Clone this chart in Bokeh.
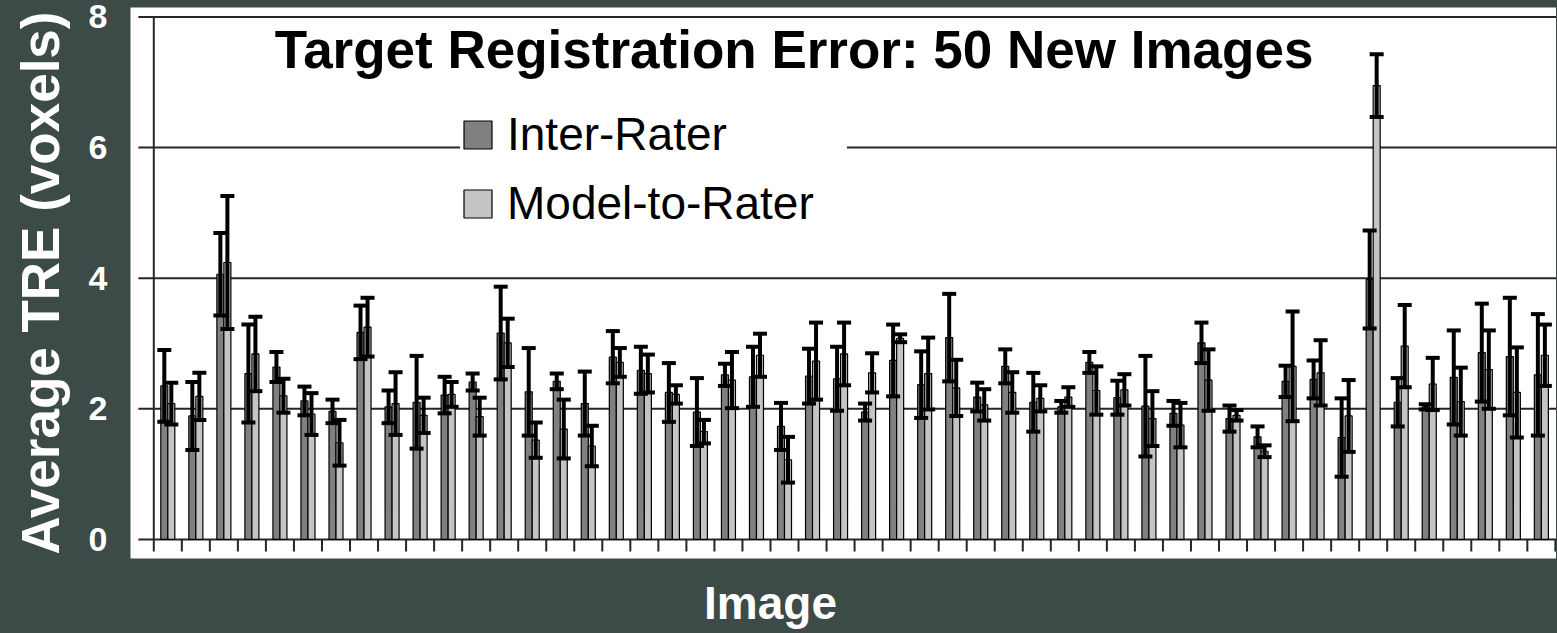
import numpy as np
from bokeh.plotting import figure
from bokeh.models import (Range1d, FixedTicker, ColumnDataSource, Whisker, TeeHead,
                          Legend, LegendItem, Label)
from bokeh.embed import file_html
from bokeh.resources import INLINE

# ---------------- data ----------------
images = list(range(1, 51))
inter_mean = [2.35, 1.89, 4.06, 2.54, 2.64, 2.12, 1.96, 3.17, 2.03, 2.10,
              2.21, 2.41, 3.16, 2.26, 2.42, 2.08, 2.79, 2.59, 2.25, 1.95,
              2.52, 2.49, 1.73, 2.50, 2.46, 1.95, 2.74, 2.37, 3.09, 2.18,
              2.65, 2.10, 2.03, 2.71, 2.17, 2.04, 1.93, 3.01, 1.85, 1.57,
              2.42, 2.45, 1.56, 3.98, 2.10, 2.03, 2.48, 2.86, 2.80, 2.52]
inter_sd = [0.55, 0.52, 0.63, 0.75, 0.23, 0.22, 0.18, 0.41, 0.25, 0.71,
            0.28, 0.13, 0.71, 0.67, 0.12, 0.49, 0.40, 0.36, 0.45, 0.52,
            0.17, 0.46, 0.36, 0.42, 0.49, 0.13, 0.55, 0.51, 0.67, 0.22,
            0.26, 0.45, 0.09, 0.16, 0.26, 0.77, 0.19, 0.31, 0.20, 0.16,
            0.24, 0.29, 0.60, 0.75, 0.37, 0.04, 0.72, 0.75, 0.90, 0.93]
model_mean = [2.08, 2.19, 4.24, 2.84, 2.20, 1.92, 1.48, 3.25, 2.08, 1.90,
              2.22, 1.88, 3.01, 1.52, 1.69, 1.43, 2.71, 2.54, 2.22, 1.65,
              2.44, 2.82, 1.22, 2.73, 2.84, 2.55, 3.08, 2.54, 2.32, 2.06,
              2.25, 2.16, 2.18, 2.28, 2.29, 1.85, 1.75, 2.44, 1.90, 1.35,
              2.65, 2.55, 1.89, 6.95, 2.96, 2.38, 2.11, 2.60, 2.25, 2.82]
model_sd = [0.32, 0.36, 1.02, 0.57, 0.26, 0.32, 0.35, 0.45, 0.48, 0.27,
            0.19, 0.29, 0.37, 0.27, 0.45, 0.31, 0.22, 0.29, 0.14, 0.18,
            0.43, 0.33, 0.35, 0.59, 0.48, 0.30, 0.06, 0.55, 0.43, 0.24,
            0.31, 0.20, 0.15, 0.37, 0.24, 0.42, 0.34, 0.47, 0.08, 0.09,
            0.84, 0.50, 0.55, 0.48, 0.63, 0.40, 0.52, 0.60, 0.69, 0.47]
series_names = ["Inter-Rater", "Model-to-Rater"]
y_ticks = [0, 2, 4, 6, 8]
title_text = "Target Registration Error: 50 New Images"
y_title = "Average TRE (voxels)"
x_title = "Image"

# ---------------- styling / layout ----------------
BG = "#3c4a48"
FONT = "Liberation Sans"
DARK = "#808080"
LIGHT = "#c4c4c4"
GRID = "#262626"
W, H = 1556, 632
X0, X1 = -0.831, 50.04
Y0, Y1 = -0.2925, 8.145
TICK_LEFT = -0.55
TICK_DOWN = -0.184
BAR_W = 0.25

p = figure(width=W, height=H, output_backend="svg", toolbar_location=None,
           x_range=Range1d(X0, X1), y_range=Range1d(Y0, Y1),
           min_border_left=130, min_border_right=0, min_border_top=7,
           min_border_bottom=74,
           background_fill_color="white", border_fill_color=BG,
           outline_line_color=None)
p.xgrid.visible = False
p.ygrid.visible = False

# gridlines + axis lines + category ticks (Excel style)
grid_vals = [v for v in y_ticks if v > 0]
p.segment(x0=[TICK_LEFT] * len(grid_vals), x1=[X1] * len(grid_vals),
          y0=grid_vals, y1=grid_vals, line_color=GRID, line_width=2)
p.segment(x0=[TICK_LEFT], x1=[X1], y0=[0], y1=[0], line_color=GRID, line_width=2)
p.segment(x0=[0], x1=[0], y0=[TICK_DOWN], y1=[y_ticks[-1]], line_color=GRID, line_width=2)
p.segment(x0=images, x1=images, y0=[0] * len(images), y1=[TICK_DOWN] * len(images),
          line_color=GRID, line_width=2)

xc = np.array(images, dtype=float) - 0.5
im, isd = np.array(inter_mean), np.array(inter_sd)
mm, msd = np.array(model_mean), np.array(model_sd)
src = ColumnDataSource(dict(
    x_i=xc - BAR_W / 2, x_m=xc + BAR_W / 2,
    im=im, mm=mm,
    i_lo=im - isd, i_hi=im + isd,
    m_lo=mm - msd, m_hi=mm + msd,
))

r1 = p.vbar(x="x_i", top="im", bottom=0, width=BAR_W, source=src,
            fill_color=DARK, line_color="black", line_width=1.2)
r2 = p.vbar(x="x_m", top="mm", bottom=0, width=BAR_W, source=src,
            fill_color=LIGHT, line_color="black", line_width=1.2)

for base, lo, hi in [("x_i", "i_lo", "i_hi"), ("x_m", "m_lo", "m_hi")]:
    w = Whisker(source=src, base=base, lower=lo, upper=hi,
                line_color="black", line_width=4, level="annotation",
                upper_head=TeeHead(size=14, line_width=4, line_color="black"),
                lower_head=TeeHead(size=14, line_width=4, line_color="black"))
    p.add_layout(w)

legend = Legend(items=[LegendItem(label=series_names[0], renderers=[r1]),
                       LegendItem(label=series_names[1], renderers=[r2])],
                location=(330, 328), glyph_width=35, glyph_height=35,
                label_text_font=FONT, label_text_font_size="46px",
                label_text_color="black", label_standoff=12, spacing=15,
                padding=8, margin=0, label_width=340,
                border_line_color=None, background_fill_color="white",
                background_fill_alpha=1.0)
p.add_layout(legend)

p.add_layout(Label(x=22.84, y=7.50, text=title_text, text_align="center",
                   text_baseline="alphabetic", text_font=FONT,
                   text_font_style="bold", text_font_size="53px",
                   text_color="black"))

# y axis
ya = p.yaxis[0]
ya.ticker = FixedTicker(ticks=y_ticks)
ya.axis_line_color = None
ya.major_tick_line_color = None
ya.minor_tick_line_color = None
ya.major_tick_out = 0
ya.major_label_text_font = FONT
ya.major_label_text_font_style = "bold"
ya.major_label_text_font_size = "34px"
ya.major_label_text_color = "white"
ya.major_label_standoff = 23
ya.axis_label = y_title
ya.axis_label_text_font = FONT
ya.axis_label_text_font_style = "bold"
ya.axis_label_text_font_size = "53px"
ya.axis_label_text_color = "white"
ya.axis_label_standoff = 16

# x axis: title placed as a single label under the category scale
xa = p.xaxis[0]
XT = 22
xa.ticker = FixedTicker(ticks=[XT])
xa.major_label_overrides = {XT: x_title}
xa.axis_line_color = None
xa.major_tick_line_color = None
xa.minor_tick_line_color = None
xa.major_tick_out = 0
xa.major_tick_in = 0
xa.major_label_standoff = 18
xa.major_label_text_font = FONT
xa.major_label_text_font_style = "bold"
xa.major_label_text_font_size = "46px"
xa.major_label_text_color = "white"

TEMPLATE = """{% block postamble %}<style>html, body { background-color: #3c4a48; }</style>{% endblock %}"""
open("out.html", "w").write(file_html(p, INLINE, template=TEMPLATE))
